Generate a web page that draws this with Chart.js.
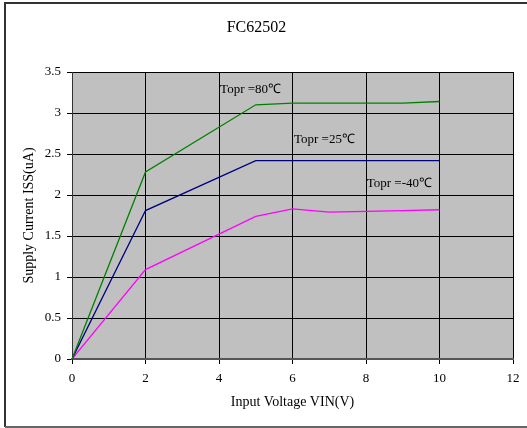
<!DOCTYPE html>
<html>
<head>
<meta charset="utf-8">
<script src="https://cdn.jsdelivr.net/npm/chart.js@4"></script>
<style>
  html, body { margin: 0; padding: 0; background: #fff; }
  #wrap { width: 527px; height: 428px; }
</style>
</head>
<body>
<div id="wrap"><canvas id="myChart" width="527" height="428"></canvas></div>
<script>
// datos
const vin = [0, 2, 5, 6, 7, 8, 9, 10];
const iss80 = [0, 2.28, 3.10, 3.12, 3.12, 3.12, 3.12, 3.14];
const iss25 = [0, 1.81, 2.42, 2.42, 2.42, 2.42, 2.42, 2.42];
const issM40 = [0, 1.09, 1.74, 1.83, 1.79, 1.80, 1.81, 1.82];

const seriesNames = ['Topr =80℃', 'Topr =25℃', 'Topr =-40℃'];
// donde va cada etiqueta (en coordenadas de datos)
const labelX = [4.03, 6.04, 8.02];
const labelY = [3.29, 2.67, 2.14];

const serif = '"Liberation Serif", "Times New Roman", serif';

const toPoints = (ys) => vin.map((x, i) => ({ x: x, y: ys[i] }));

// fondo gris y marco exterior
const bgPlugin = {
  id: 'bgPlugin',
  beforeDraw(chart) {
    const { ctx, chartArea } = chart;
    ctx.save();
    ctx.fillStyle = '#fff';
    ctx.fillRect(0, 0, chart.width, chart.height);
    ctx.fillStyle = '#c0c0c0';
    ctx.fillRect(chartArea.left, chartArea.top, chartArea.right - chartArea.left, chartArea.bottom - chartArea.top);
    ctx.lineWidth = 2;
    ctx.strokeStyle = '#333';
    ctx.beginPath();
    ctx.moveTo(527, 3);
    ctx.lineTo(5, 3);
    ctx.lineTo(5, 427);
    ctx.stroke();
    ctx.strokeStyle = '#666';
    ctx.beginPath();
    ctx.moveTo(5, 427);
    ctx.lineTo(527, 427);
    ctx.stroke();
    ctx.restore();
  }
};

// etiquetas de temperatura
const labelPlugin = {
  id: 'labelPlugin',
  afterDatasetsDraw(chart) {
    const { ctx, scales } = chart;
    ctx.save();
    ctx.font = '13px ' + serif;
    ctx.fillStyle = '#000';
    ctx.textAlign = 'left';
    ctx.textBaseline = 'middle';
    seriesNames.forEach((name, i) => {
      ctx.fillText(name, scales.x.getPixelForValue(labelX[i]), scales.y.getPixelForValue(labelY[i]));
    });
    ctx.restore();
  }
};

const data = {
  datasets: [
    { label: seriesNames[0], data: toPoints(iss80), borderColor: '#008000' },
    { label: seriesNames[1], data: toPoints(iss25), borderColor: '#000080' },
    { label: seriesNames[2], data: toPoints(issM40), borderColor: '#ff00ff' }
  ].map(d => Object.assign(d, { borderWidth: 1.3, pointRadius: 0, tension: 0, fill: false }))
};

const options = {
  responsive: false,
  animation: false,
  layout: { padding: { left: 0, right: 14, top: 0, bottom: 0 } },
  plugins: {
    legend: { display: false },
    tooltip: { enabled: false },
    title: {
      display: true,
      text: 'FC62502',
      color: '#000',
      font: { family: serif, size: 16, weight: 'normal' },
      padding: { top: 18, bottom: 34.8 }
    }
  },
  scales: {
    x: {
      type: 'linear',
      min: 0,
      max: 12,
      ticks: { stepSize: 2, color: '#000', font: { family: serif, size: 13 }, padding: 7, maxRotation: 0 },
      grid: { color: '#000', lineWidth: 1, tickLength: 5 },
      border: { color: '#555', width: 2 },
      title: { display: true, text: 'Input Voltage VIN(V)', color: '#000', font: { family: serif, size: 14 }, padding: { top: 4, bottom: 17 } },
      afterFit: (scale) => { scale.height = 69; }
    },
    y: {
      min: 0,
      max: 3.5,
      ticks: { stepSize: 0.5, color: '#000', font: { family: serif, size: 13 }, padding: 6, callback: (v) => String(v) },
      grid: { color: '#000', lineWidth: 1, tickLength: 5 },
      border: { color: '#333', width: 1 },
      title: { display: true, text: 'Supply Current ISS(uA)', color: '#000', font: { family: serif, size: 14 }, padding: { top: 21, bottom: 4 } },
      afterFit: (scale) => { scale.width = 72; }
    }
  }
};

const ctx = document.getElementById('myChart').getContext('2d');
const myChart = new Chart(ctx, {
  type: 'line',
  data: data,
  options: options,
  plugins: [bgPlugin, labelPlugin]
});
</script>
</body>
</html>
